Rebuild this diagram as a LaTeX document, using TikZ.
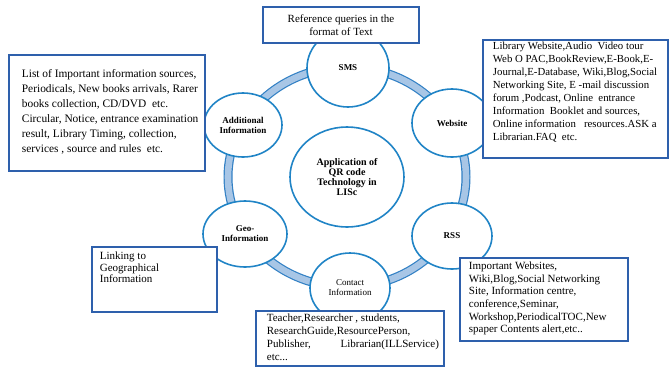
\documentclass[tikz,border=0pt]{standalone}
\usepackage{fontspec}
\setmainfont{Liberation Serif}
\usetikzlibrary{shapes.geometric}

\definecolor{boxline}{RGB}{46,96,172}
\definecolor{ringline}{RGB}{32,132,198}
\definecolor{bandfill}{RGB}{168,198,230}
\definecolor{bandline}{RGB}{50,128,196}

% text block placed at a fixed offset inside a box of fixed size:
% #1 width, #2 height, #3 left pad, #4 top pad, #5 lines
\newcommand\padtext[5]{\vbox to #2{\vskip #4\hbox to #1{\hskip #3\begin{tabular}[t]{@{}l@{}}#5\end{tabular}\hfil}\vfil}}

\begin{document}
\begin{tikzpicture}[x=1pt,y=-1pt,
  hub/.style={ellipse, draw=ringline, line width=1.6pt, fill=white, inner sep=0pt,
    align=center, font=\fontsize{9}{10}\selectfont\bfseries},
  infobox/.style={rectangle, draw=boxline, line width=1.8pt, fill=white,
    anchor=north west, inner sep=0pt},
]
\useasboundingbox (0,0) rectangle (670,368);

% ring band joining the six topics
\coordinate (ring) at (347,177);
\draw[bandline, line width=9pt] (ring) ellipse [x radius=119pt, y radius=110pt];
\draw[bandfill, line width=6.6pt] (ring) ellipse [x radius=119pt, y radius=110pt];

% hub and topics
\node[hub, minimum width=114pt, minimum height=100pt,
      font=\fontsize{10}{10}\selectfont\bfseries] (core) at (ring)
  {Application of\\QR code\\Technology in\\LISc};
\node[hub, minimum width=82pt, minimum height=78pt] (sms) at (348,68) {SMS};
\node[hub, minimum width=80pt, minimum height=68pt] (web) at (452,123) {Website};
\node[hub, minimum width=80pt, minimum height=66pt] (rss) at (452,236) {RSS};
\node[hub, minimum width=80pt, minimum height=70pt,
      font=\fontsize{9}{10}\selectfont] (contact) at (350,288) {Contact\\Information};
\node[hub, minimum width=84pt, minimum height=66pt] (geo) at (245,234) {Geo-\\Information};
\node[hub, minimum width=78pt, minimum height=64pt] (addl) at (243,125) {Additional\\Information};

% description boxes
\node[infobox, minimum width=156pt, minimum height=36pt, anchor=center, align=center,
      font=\fontsize{11}{13}\selectfont] (smsbox) at (341,25)
  {Reference queries in the\\format of Text};

\node[infobox, font=\fontsize{11.4}{15}\selectfont] (addlbox) at (8,54)
  {\padtext{196pt}{116pt}{13pt}{12pt}{%
    List of Important information sources,\\
    Periodicals, New books arrivals, Rarer\\
    books collection, CD/DVD\ \ etc.\\
    Circular, Notice, entrance examination\\
    result, Library Timing, collection,\\
    services , source and rules\ \ etc.}};

\node[infobox, font=\fontsize{10.8}{13}\selectfont] (webbox) at (482,39)
  {\padtext{185pt}{118pt}{10pt}{0.5pt}{%
    Library Website,Audio\ \ Video tour\\
    Web O PAC,BookReview,E-Book,E-\\
    Journal,E-Database, Wiki,Blog,Social\\
    Networking Site, E -mail discussion\\
    forum ,Podcast, Online\ \ entrance\\
    Information\ \ Booklet and sources,\\
    Online information\ \ \ resources.ASK a\\
    Librarian.FAQ\ \ etc.}};

\node[infobox, font=\fontsize{11}{12.6}\selectfont] (rssbox) at (459,257)
  {\padtext{168pt}{83pt}{9pt}{3pt}{%
    Important Websites,\\
    Wiki,Blog,Social Networking\\
    Site, Information centre,\\
    conference,Seminar,\\
    Workshop,PeriodicalTOC,New\\
    spaper Contents alert,etc..}};

\node[infobox, font=\fontsize{11}{13}\selectfont] (contactbox) at (255,310)
  {\padtext{188pt}{55pt}{11pt}{1.6pt}{%
    Teacher,Researcher , students,\\
    ResearchGuide,ResourcePerson,\\
    \makebox[172pt][s]{Publisher,\hfill Librarian(ILLService)}\\
    etc...}};

\node[infobox, font=\fontsize{11}{11.5}\selectfont] (geobox) at (91,246)
  {\padtext{125pt}{65pt}{8pt}{5pt}{%
    Linking to\\
    Geographical\\
    Information}};
\end{tikzpicture}
\end{document}
